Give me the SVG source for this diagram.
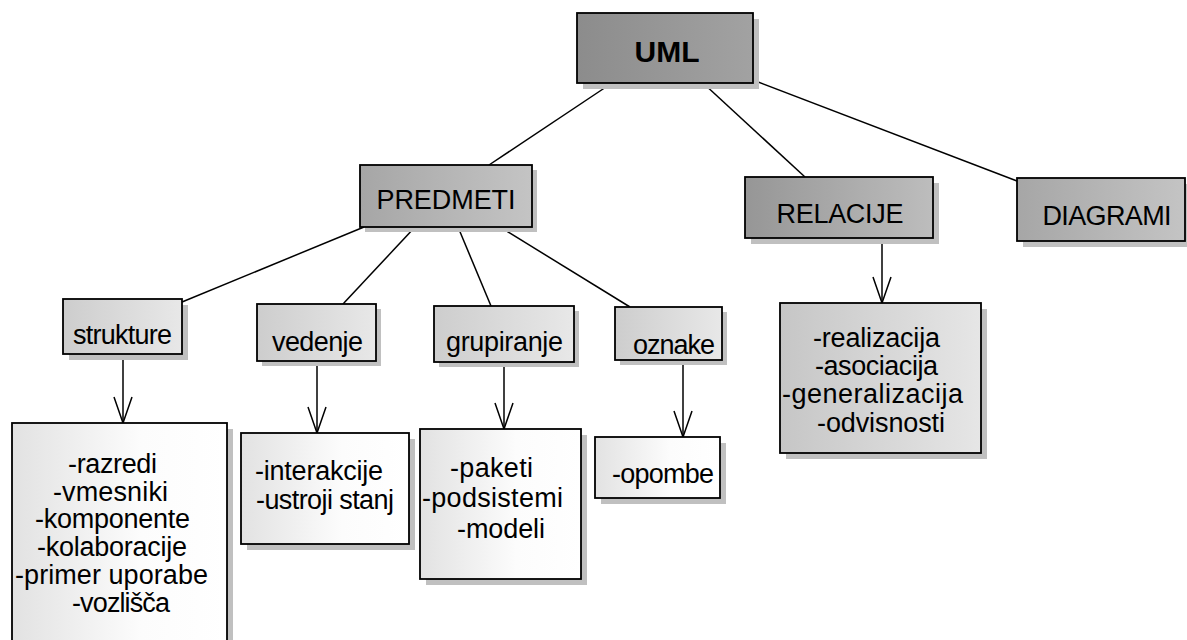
<svg xmlns="http://www.w3.org/2000/svg" width="1187" height="640" viewBox="0 0 1187 640">
  <style>
    text { font-family: "Liberation Sans", Arial, sans-serif; font-size: 27px; fill: #000; }
    .title { font-size: 30px; font-weight: bold; }
    .box { stroke: #000; stroke-width: 1.8; }
    .shadow { fill: #c0c0c0; stroke: none; }
    .edge { stroke: #000; stroke-width: 1.5; fill: none; }
    .arrow { stroke: #000; stroke-width: 1.5; fill: none; marker-end: url(#open); }
  </style>
  <defs>
    <linearGradient id="gRoot" x1="0" y1="0" x2="1" y2="0">
      <stop offset="0" stop-color="#8c8c8c"/>
      <stop offset="1" stop-color="#a2a2a2"/>
    </linearGradient>
    <linearGradient id="gMid" x1="0" y1="0" x2="1" y2="0">
      <stop offset="0" stop-color="#a6a6a6"/>
      <stop offset="1" stop-color="#c4c4c4"/>
    </linearGradient>
    <linearGradient id="gRelHead" x1="0" y1="0" x2="1" y2="0">
      <stop offset="0" stop-color="#969696"/>
      <stop offset="1" stop-color="#bdbdbd"/>
    </linearGradient>
    <linearGradient id="gLeaf" x1="0" y1="0" x2="1" y2="0">
      <stop offset="0" stop-color="#cdcdcd"/>
      <stop offset="1" stop-color="#e8e8e8"/>
    </linearGradient>
    <linearGradient id="gList" x1="0" y1="0" x2="1" y2="0">
      <stop offset="0" stop-color="#e2e2e2"/>
      <stop offset="0.6" stop-color="#fcfcfc"/>
      <stop offset="1" stop-color="#ffffff"/>
    </linearGradient>
    <linearGradient id="gRel" x1="0" y1="0" x2="1" y2="0">
      <stop offset="0" stop-color="#c6c6c6"/>
      <stop offset="1" stop-color="#e6e6e6"/>
    </linearGradient>
    <marker id="open" viewBox="-28 -11 30 22" markerWidth="30" markerHeight="22" refX="0" refY="0" orient="auto" markerUnits="userSpaceOnUse">
      <path d="M-26,-9 L0,0 L-26,9" fill="none" stroke="#000" stroke-width="1.5"/>
    </marker>
  </defs>

  <!-- connectors -->
  <g id="connectors">
    <line class="edge" x1="612" y1="83" x2="489" y2="165"/>
    <line class="edge" x1="703" y1="83" x2="805" y2="177"/>
    <line class="edge" x1="753" y1="80" x2="1017" y2="181"/>
    <line class="edge" x1="364" y1="227" x2="182" y2="302"/>
    <line class="edge" x1="415" y1="227" x2="343" y2="304"/>
    <line class="edge" x1="458" y1="227" x2="491" y2="306"/>
    <line class="edge" x1="500" y1="227" x2="630" y2="307"/>
    <line class="arrow" x1="123" y1="354" x2="123" y2="423"/>
    <line class="arrow" x1="317" y1="361" x2="317" y2="433"/>
    <line class="arrow" x1="504" y1="362" x2="504" y2="429"/>
    <line class="arrow" x1="683" y1="360" x2="683" y2="437"/>
    <line class="arrow" x1="882" y1="238" x2="882" y2="303"/>
  </g>

  <!-- root -->
  <g id="uml">
    <rect class="shadow" x="583" y="19" width="176" height="70"/>
    <rect class="box" x="577" y="13" width="176" height="70" fill="url(#gRoot)"/>
    <text class="title" x="667" y="62" text-anchor="middle">UML</text>
  </g>

  <!-- second level -->
  <g id="predmeti">
    <rect class="shadow" x="365" y="170" width="172" height="62"/>
    <rect class="box" x="360" y="165" width="172" height="62" fill="url(#gMid)"/>
    <text x="446" y="209" text-anchor="middle" textLength="139" lengthAdjust="spacing">PREDMETI</text>
  </g>
  <g id="relacije">
    <rect class="shadow" x="751" y="183" width="188" height="61"/>
    <rect class="box" x="745" y="177" width="188" height="61" fill="url(#gRelHead)"/>
    <text x="840" y="223" text-anchor="middle" textLength="127" lengthAdjust="spacing">RELACIJE</text>
  </g>
  <g id="diagrami">
    <rect class="shadow" x="1023" y="184" width="168" height="63"/>
    <rect class="box" x="1017" y="178" width="168" height="63" fill="url(#gMid)"/>
    <text x="1107" y="225" text-anchor="middle" textLength="129" lengthAdjust="spacing">DIAGRAMI</text>
  </g>

  <!-- third level -->
  <g id="strukture">
    <rect class="shadow" x="69" y="305" width="119" height="55"/>
    <rect class="box" x="63" y="299" width="119" height="55" fill="url(#gLeaf)"/>
    <text x="73" y="344" textLength="99" lengthAdjust="spacing">strukture</text>
  </g>
  <g id="vedenje">
    <rect class="shadow" x="262" y="309" width="119" height="57"/>
    <rect class="box" x="257" y="304" width="119" height="57" fill="url(#gLeaf)"/>
    <text x="272" y="351" textLength="91" lengthAdjust="spacing">vedenje</text>
  </g>
  <g id="grupiranje">
    <rect class="shadow" x="439" y="311" width="140" height="56"/>
    <rect class="box" x="434" y="306" width="140" height="56" fill="url(#gLeaf)"/>
    <text x="446" y="351" textLength="117" lengthAdjust="spacing">grupiranje</text>
  </g>
  <g id="oznake">
    <rect class="shadow" x="620" y="312" width="107" height="53"/>
    <rect class="box" x="615" y="307" width="107" height="53" fill="url(#gLeaf)"/>
    <text x="633" y="354" textLength="82" lengthAdjust="spacing">oznake</text>
  </g>

  <!-- detail lists -->
  <g id="strukture-list">
    <rect class="shadow" x="18" y="429" width="215" height="230"/>
    <rect class="box" x="12" y="423" width="215" height="230" fill="url(#gList)"/>
    <text x="68" y="473" textLength="89" lengthAdjust="spacing">-razredi</text>
    <text x="53" y="501" textLength="115" lengthAdjust="spacing">-vmesniki</text>
    <text x="35" y="528" textLength="155" lengthAdjust="spacing">-komponente</text>
    <text x="37" y="556" textLength="150" lengthAdjust="spacing">-kolaboracije</text>
    <text x="15" y="584" textLength="193" lengthAdjust="spacing">-primer uporabe</text>
    <text x="72" y="612" textLength="98" lengthAdjust="spacing">-vozlišča</text>
  </g>
  <g id="vedenje-list">
    <rect class="shadow" x="247" y="439" width="168" height="111"/>
    <rect class="box" x="241" y="433" width="168" height="111" fill="url(#gList)"/>
    <text x="255" y="480" textLength="128" lengthAdjust="spacing">-interakcije</text>
    <text x="256" y="509" textLength="138" lengthAdjust="spacing">-ustroji stanj</text>
  </g>
  <g id="grupiranje-list">
    <rect class="shadow" x="426" y="435" width="161" height="150"/>
    <rect class="box" x="420" y="429" width="161" height="150" fill="url(#gList)"/>
    <text x="450" y="477" textLength="83" lengthAdjust="spacing">-paketi</text>
    <text x="422" y="507" textLength="141" lengthAdjust="spacing">-podsistemi</text>
    <text x="457" y="538" textLength="88" lengthAdjust="spacing">-modeli</text>
  </g>
  <g id="oznake-list">
    <rect class="shadow" x="601" y="443" width="125" height="61"/>
    <rect class="box" x="595" y="437" width="125" height="61" fill="url(#gList)"/>
    <text x="612" y="483" textLength="102" lengthAdjust="spacing">-opombe</text>
  </g>
  <g id="relacije-list">
    <rect class="shadow" x="786" y="309" width="201" height="150"/>
    <rect class="box" x="780" y="303" width="201" height="150" fill="url(#gRel)"/>
    <text x="813" y="347" textLength="127" lengthAdjust="spacing">-realizacija</text>
    <text x="815" y="375" textLength="123" lengthAdjust="spacing">-asociacija</text>
    <text x="782" y="403" textLength="181" lengthAdjust="spacing">-generalizacija</text>
    <text x="817" y="432" textLength="128" lengthAdjust="spacing">-odvisnosti</text>
  </g>
</svg>
